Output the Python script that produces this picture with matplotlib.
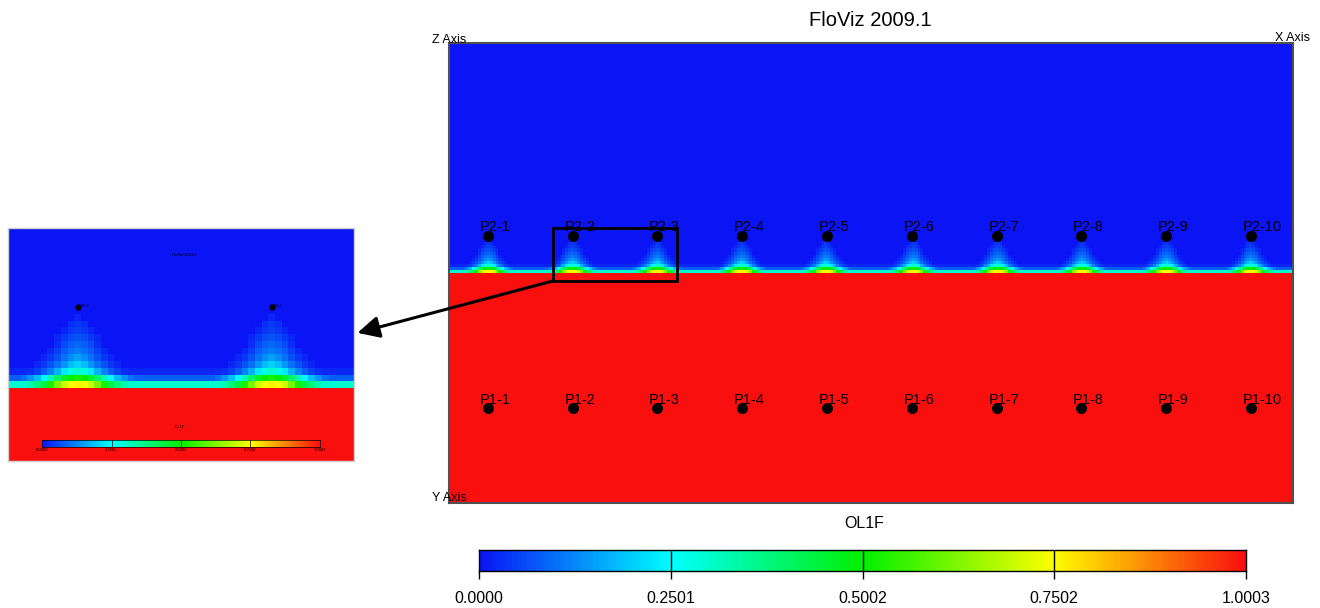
import numpy as np
import matplotlib
matplotlib.use("Agg")
import matplotlib.pyplot as plt
from matplotlib.colors import LinearSegmentedColormap
from matplotlib.patches import Rectangle, ConnectionPatch

plt.rcParams['font.family'] = ['Liberation Sans Narrow', 'Liberation Sans', 'DejaVu Sans']

# grid: 290 columns x 150 rows, oil/water contact at y = 0 (rows counted up from it)
nx, ny = 290, 150
contact_row = 75

# well columns and heights (rows above / below the contact)
well_x = [13.4, 42.6, 71.5, 100.7, 129.9, 159.1, 188.3, 217.2, 246.4, 275.6]
p2_y = 12
p1_y = -44
p2_names = ["P2-1", "P2-2", "P2-3", "P2-4", "P2-5", "P2-6", "P2-7", "P2-8", "P2-9", "P2-10"]
p1_names = ["P1-1", "P1-2", "P1-3", "P1-4", "P1-5", "P1-6", "P1-7", "P1-8", "P1-9", "P1-10"]

# OL1F in the rows just above the contact, away from the wells
contact_band = [0.30, 0.08, 0.02]

# OL1F in the cone under each P2 well: row = cells above contact, col = cells from well
cone = [
    [0.76, 0.74, 0.70, 0.62, 0.52, 0.44, 0.38, 0.33, 0.30],
    [0.52, 0.50, 0.46, 0.40, 0.32, 0.25, 0.18, 0.14, 0.10, 0.08],
    [0.30, 0.28, 0.23, 0.17, 0.12, 0.08, 0.05, 0.03],
    [0.20, 0.18, 0.14, 0.10, 0.07, 0.04, 0.02],
    [0.15, 0.13, 0.10, 0.07, 0.04, 0.02],
    [0.11, 0.10, 0.08, 0.05, 0.02],
    [0.09, 0.08, 0.06, 0.03],
    [0.07, 0.06, 0.04, 0.02],
    [0.05, 0.04, 0.02],
    [0.04, 0.03],
    [0.02],
]

cbar_ticks = [0.0, 0.2501, 0.5002, 0.7502, 1.0003]
vmax = 1.0003

# zoom box drawn on the section and the window shown in the inset
zoom_box_x = (35.7, 78.3)
zoom_box_y = (-2.6, 14.7)
inset_xlim = (32.1, 83.8)
inset_ylim = (-10.8, 23.7)

cmap = LinearSegmentedColormap.from_list(
    "floviz", [(0.0, "#0a14f5"), (0.25, "#00ffff"), (0.5, "#00f000"),
               (0.75, "#ffff00"), (1.0, "#fa0f0f")])

# build the saturation field
field = np.zeros((ny, nx))
field[contact_row:, :] = 1.0
for k, v in enumerate(contact_band):
    field[contact_row - 1 - k, :] = v
for wx in well_x:
    c = int(wx)
    for k, row in enumerate(cone):
        r = contact_row - 1 - k
        for d, v in enumerate(row):
            for cc in {c - d, c + d}:
                if 0 <= cc < nx:
                    field[r, cc] = max(field[r, cc], v)

W, H = 1320, 608
fig = plt.figure(figsize=(W / 100, H / 100), dpi=100)


def px_axes(x0, y0, x1, y1):
    return fig.add_axes([x0 / W, 1 - y1 / H, (x1 - x0) / W, (y1 - y0) / H])


extent = (0, nx, -contact_row, ny - contact_row)

# main section
ax = px_axes(449, 43, 1293, 503)
ax.imshow(field, cmap=cmap, vmin=0, vmax=vmax, extent=extent,
          aspect="auto", interpolation="nearest", origin="upper")
ax.set_xlim(0, nx)
ax.set_ylim(-contact_row, ny - contact_row)
ax.set_xticks([])
ax.set_yticks([])
for s in ax.spines.values():
    s.set_color("#505050")
    s.set_linewidth(1.5)

ax.scatter(well_x, [p2_y] * len(well_x), s=48, c="black", zorder=3)
ax.scatter(well_x, [p1_y] * len(well_x), s=48, c="black", zorder=3)
for wx, n in zip(well_x, p2_names):
    ax.annotate(n, (wx, p2_y), xytext=(-8, 9), textcoords="offset pixels",
                ha="left", va="center", fontsize=10.5, color="black", zorder=4)
for wx, n in zip(well_x, p1_names):
    ax.annotate(n, (wx, p1_y), xytext=(-8, 8), textcoords="offset pixels",
                ha="left", va="center", fontsize=10.5, color="black", zorder=4)

ax.add_patch(Rectangle((zoom_box_x[0], zoom_box_y[0]),
                       zoom_box_x[1] - zoom_box_x[0], zoom_box_y[1] - zoom_box_y[0],
                       fill=False, ec="black", lw=2, zorder=5))

fig.text(870 / W, 1 - 21 / H, "FloViz 2009.1", ha="center", va="center", fontsize=14.5)
fig.text(432 / W, 1 - 40 / H, "Z Axis", ha="left", va="center", fontsize=9)
fig.text(1275 / W, 1 - 38 / H, "X Axis", ha="left", va="center", fontsize=9)
fig.text(432 / W, 1 - 498 / H, "Y Axis", ha="left", va="center", fontsize=9)
fig.text(864 / W, 1 - 523 / H, "OL1F", ha="center", va="center", fontsize=11.5)


def draw_colorbar(cax, label_size, tick_len, pad, lw):
    grad = np.linspace(0, vmax, 512)[None, :]
    cax.imshow(grad, cmap=cmap, vmin=0, vmax=vmax, extent=(0, vmax, 0, 1),
               aspect="auto", interpolation="bilinear")
    cax.set_xlim(0, vmax)
    cax.set_ylim(0, 1)
    cax.set_yticks([])
    cax.set_xticks(cbar_ticks)
    cax.set_xticklabels([f"{t:.4f}" for t in cbar_ticks], fontsize=label_size)
    cax.tick_params(axis="x", length=tick_len, width=lw, pad=pad)
    for t in cbar_ticks[1:-1]:
        cax.axvline(t, color="black", lw=lw)
    for s in cax.spines.values():
        s.set_linewidth(lw)


cax = px_axes(479, 550, 1246, 571)
draw_colorbar(cax, 11.5, 5.5, 9, 1.0)

# zoomed inset of the cones under P2-2 and P2-3
iax = px_axes(8, 228, 354, 461)
iax.imshow(field, cmap=cmap, vmin=0, vmax=vmax, extent=extent,
           aspect="auto", interpolation="nearest", origin="upper")
iax.set_xlim(*inset_xlim)
iax.set_ylim(*inset_ylim)
iax.set_xticks([])
iax.set_yticks([])
for s in iax.spines.values():
    s.set_color("#d0d0d0")
    s.set_linewidth(1)
iax.scatter(well_x[1:3], [p2_y] * 2, s=12, c="black", zorder=3)
for wx, n in zip(well_x[1:3], p2_names[1:3]):
    iax.annotate(n, (wx, p2_y), xytext=(2, 1), textcoords="offset pixels",
                 ha="left", va="center", fontsize=3, zorder=4)
iax.text(0.51, 0.885, "FloViz 2009.1", transform=iax.transAxes,
         ha="center", va="center", fontsize=3)
iax.text(0.497, 0.147, "OL1F", transform=iax.transAxes,
         ha="center", va="center", fontsize=3)

icax = px_axes(42, 440, 320, 447)
draw_colorbar(icax, 3, 0, 1, 0.5)

arrow = ConnectionPatch(xyA=(zoom_box_x[0], zoom_box_y[0]), coordsA=ax.transData,
                        xyB=(1.01, 0.55), coordsB=iax.transAxes,
                        arrowstyle="-|>,head_length=1.2,head_width=0.6",
                        color="black", lw=2.2, mutation_scale=11)
fig.add_artist(arrow)

fig.savefig("out.png", dpi=100)
